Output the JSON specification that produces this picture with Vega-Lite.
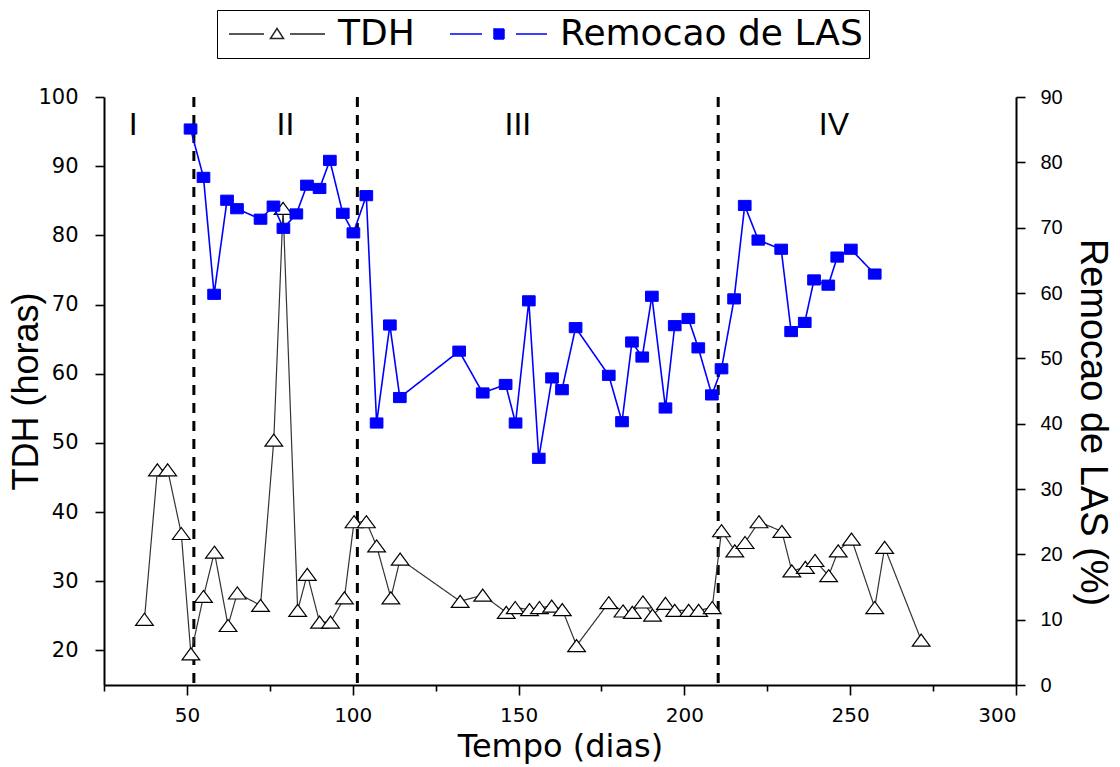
{
  "$schema": "https://vega.github.io/schema/vega-lite/v6.json",
  "width": 912,
  "height": 588,
  "autosize": {"type": "none"},
  "padding": {"left": 104, "top": 97, "right": 104, "bottom": 82},
  "background": "white",
  "config": {
    "view": {"stroke": null},
    "axis": {
      "domainColor": "black", "domainWidth": 2, "tickColor": "black", "tickWidth": 1.6,
      "labelColor": "black", "titleColor": "black", "titleFontWeight": "normal", "grid": false
    }
  },
  "datasets": {
    "tdh": [
      {"x": 37.2, "y": 24.5, "series": "TDH"}, {"x": 41.1, "y": 46.1, "series": "TDH"},
      {"x": 44.2, "y": 46.1, "series": "TDH"}, {"x": 48.3, "y": 36.9, "series": "TDH"},
      {"x": 51.2, "y": 19.5, "series": "TDH"}, {"x": 55.0, "y": 27.8, "series": "TDH"},
      {"x": 58.3, "y": 34.2, "series": "TDH"}, {"x": 62.4, "y": 23.6, "series": "TDH"},
      {"x": 65.2, "y": 28.3, "series": "TDH"}, {"x": 72.2, "y": 26.5, "series": "TDH"},
      {"x": 76.2, "y": 50.4, "series": "TDH"}, {"x": 79.0, "y": 83.9, "series": "TDH"},
      {"x": 83.4, "y": 25.8, "series": "TDH"}, {"x": 86.3, "y": 31.0, "series": "TDH"},
      {"x": 90.0, "y": 24.1, "series": "TDH"}, {"x": 93.3, "y": 24.1, "series": "TDH"},
      {"x": 97.5, "y": 27.6, "series": "TDH"}, {"x": 100.4, "y": 38.6, "series": "TDH"},
      {"x": 104.1, "y": 38.6, "series": "TDH"}, {"x": 107.2, "y": 35.1, "series": "TDH"},
      {"x": 111.5, "y": 27.6, "series": "TDH"}, {"x": 114.3, "y": 33.2, "series": "TDH"},
      {"x": 132.4, "y": 27.1, "series": "TDH"}, {"x": 139.2, "y": 28.0, "series": "TDH"},
      {"x": 146.3, "y": 25.5, "series": "TDH"}, {"x": 149.0, "y": 26.2, "series": "TDH"},
      {"x": 153.3, "y": 25.9, "series": "TDH"}, {"x": 156.3, "y": 26.2, "series": "TDH"},
      {"x": 160.0, "y": 26.4, "series": "TDH"}, {"x": 163.2, "y": 25.9, "series": "TDH"},
      {"x": 167.5, "y": 20.7, "series": "TDH"}, {"x": 177.2, "y": 26.9, "series": "TDH"},
      {"x": 181.5, "y": 25.7, "series": "TDH"}, {"x": 184.3, "y": 25.5, "series": "TDH"},
      {"x": 187.5, "y": 27.0, "series": "TDH"}, {"x": 190.4, "y": 25.1, "series": "TDH"},
      {"x": 194.3, "y": 26.8, "series": "TDH"}, {"x": 197.1, "y": 25.8, "series": "TDH"},
      {"x": 201.3, "y": 25.8, "series": "TDH"}, {"x": 204.3, "y": 25.8, "series": "TDH"},
      {"x": 208.4, "y": 26.2, "series": "TDH"}, {"x": 211.2, "y": 37.3, "series": "TDH"},
      {"x": 215.2, "y": 34.4, "series": "TDH"}, {"x": 218.3, "y": 35.6, "series": "TDH"},
      {"x": 222.5, "y": 38.6, "series": "TDH"}, {"x": 229.4, "y": 37.2, "series": "TDH"},
      {"x": 232.4, "y": 31.5, "series": "TDH"}, {"x": 236.5, "y": 32.0, "series": "TDH"},
      {"x": 239.4, "y": 33.0, "series": "TDH"}, {"x": 243.5, "y": 30.8, "series": "TDH"},
      {"x": 246.4, "y": 34.4, "series": "TDH"}, {"x": 250.4, "y": 36.1, "series": "TDH"},
      {"x": 257.4, "y": 26.2, "series": "TDH"}, {"x": 260.4, "y": 34.9, "series": "TDH"},
      {"x": 271.4, "y": 21.5, "series": "TDH"}
    ],
    "las": [
      {"x": 51.1, "y": 85.1, "series": "Remocao de LAS"}, {"x": 55.0, "y": 77.7, "series": "Remocao de LAS"},
      {"x": 58.2, "y": 59.8, "series": "Remocao de LAS"}, {"x": 62.1, "y": 74.2, "series": "Remocao de LAS"},
      {"x": 65.1, "y": 72.9, "series": "Remocao de LAS"}, {"x": 72.2, "y": 71.3, "series": "Remocao de LAS"},
      {"x": 76.1, "y": 73.3, "series": "Remocao de LAS"}, {"x": 79.1, "y": 69.9, "series": "Remocao de LAS"},
      {"x": 83.0, "y": 72.1, "series": "Remocao de LAS"}, {"x": 86.2, "y": 76.5, "series": "Remocao de LAS"},
      {"x": 90.0, "y": 76.0, "series": "Remocao de LAS"}, {"x": 93.1, "y": 80.3, "series": "Remocao de LAS"},
      {"x": 97.0, "y": 72.2, "series": "Remocao de LAS"}, {"x": 100.2, "y": 69.2, "series": "Remocao de LAS"},
      {"x": 104.1, "y": 74.9, "series": "Remocao de LAS"}, {"x": 107.2, "y": 40.1, "series": "Remocao de LAS"},
      {"x": 111.2, "y": 55.1, "series": "Remocao de LAS"}, {"x": 114.2, "y": 44.0, "series": "Remocao de LAS"},
      {"x": 132.1, "y": 51.1, "series": "Remocao de LAS"}, {"x": 139.2, "y": 44.7, "series": "Remocao de LAS"},
      {"x": 146.1, "y": 46.0, "series": "Remocao de LAS"}, {"x": 149.1, "y": 40.1, "series": "Remocao de LAS"},
      {"x": 153.1, "y": 58.8, "series": "Remocao de LAS"}, {"x": 156.1, "y": 34.7, "series": "Remocao de LAS"},
      {"x": 160.1, "y": 47.0, "series": "Remocao de LAS"}, {"x": 163.1, "y": 45.2, "series": "Remocao de LAS"},
      {"x": 167.2, "y": 54.7, "series": "Remocao de LAS"}, {"x": 177.2, "y": 47.4, "series": "Remocao de LAS"},
      {"x": 181.2, "y": 40.3, "series": "Remocao de LAS"}, {"x": 184.2, "y": 52.5, "series": "Remocao de LAS"},
      {"x": 187.3, "y": 50.2, "series": "Remocao de LAS"}, {"x": 190.2, "y": 59.5, "series": "Remocao de LAS"},
      {"x": 194.3, "y": 42.4, "series": "Remocao de LAS"}, {"x": 197.1, "y": 55.0, "series": "Remocao de LAS"},
      {"x": 201.2, "y": 56.1, "series": "Remocao de LAS"}, {"x": 204.2, "y": 51.6, "series": "Remocao de LAS"},
      {"x": 208.3, "y": 44.4, "series": "Remocao de LAS"}, {"x": 211.2, "y": 48.4, "series": "Remocao de LAS"},
      {"x": 215.0, "y": 59.1, "series": "Remocao de LAS"}, {"x": 218.2, "y": 73.4, "series": "Remocao de LAS"},
      {"x": 222.3, "y": 68.1, "series": "Remocao de LAS"}, {"x": 229.2, "y": 66.7, "series": "Remocao de LAS"},
      {"x": 232.2, "y": 54.1, "series": "Remocao de LAS"}, {"x": 236.3, "y": 55.5, "series": "Remocao de LAS"},
      {"x": 239.1, "y": 62.0, "series": "Remocao de LAS"}, {"x": 243.4, "y": 61.2, "series": "Remocao de LAS"},
      {"x": 246.1, "y": 65.5, "series": "Remocao de LAS"}, {"x": 250.2, "y": 66.7, "series": "Remocao de LAS"},
      {"x": 257.4, "y": 62.9, "series": "Remocao de LAS"}
    ],
    "phases": [
      {"label": "I", "x": 33.8, "y": 96.0},
      {"label": "II", "x": 79.7, "y": 96.0},
      {"label": "III", "x": 149.8, "y": 96.0},
      {"label": "IV", "x": 245.1, "y": 96.0}
    ],
    "dividers": [{"x": 52.1}, {"x": 101.4}, {"x": 210.2}]
  },
  "layer": [
    {
      "layer": [
        {
          "data": {"name": "dividers"},
          "mark": {"type": "rule", "color": "black", "strokeWidth": 3, "strokeDash": [10, 8]},
          "encoding": {
            "x": {"field": "x", "type": "quantitative", "scale": {"domain": [25, 300], "nice": false, "zero": false}}
          }
        },
        {
          "data": {"name": "phases"},
          "mark": {"type": "text", "font": "Liberation Sans", "fontSize": 32, "color": "black", "baseline": "middle", "align": "center"},
          "encoding": {
            "x": {"field": "x", "type": "quantitative"},
            "y": {"field": "y", "type": "quantitative"},
            "text": {"field": "label", "type": "nominal"}
          }
        },
        {
          "data": {"name": "tdh"},
          "mark": {"type": "line", "color": "#333333", "strokeWidth": 1.2},
          "encoding": {
            "x": {
              "field": "x", "type": "quantitative",
              "scale": {"domain": [25, 300], "nice": false, "zero": false},
              "axis": {
                "orient": "bottom", "title": "Tempo (dias)",
                "values": [25, 50, 75, 100, 125, 150, 175, 200, 225, 250, 275, 300],
                "labelExpr": "datum.value % 50 === 0 ? datum.label : ''",
                "tickSize": {"condition": {"test": "datum.value % 50 === 0", "value": 10}, "value": 6},
                "labelFont": "DejaVu Sans", "labelFontSize": 20, "labelPadding": 10,
                "titleFont": "DejaVu Sans", "titleFontSize": 32, "titlePadding": 6
              }
            },
            "y": {
              "field": "y", "type": "quantitative",
              "scale": {"domain": [15, 100], "nice": false, "zero": false},
              "axis": {
                "orient": "left", "title": "TDH (horas)",
                "values": [20, 25, 30, 35, 40, 45, 50, 55, 60, 65, 70, 75, 80, 85, 90, 95, 100],
                "labelExpr": "datum.value % 10 === 0 ? datum.label : ''",
                "tickSize": {"condition": {"test": "datum.value % 10 === 0", "value": 9}, "value": 6},
                "labelFont": "DejaVu Sans", "labelFontSize": 21, "labelPadding": 17,
                "titleFont": "Liberation Sans", "titleFontSize": 36, "titlePadding": -8
              }
            },
            "strokeDash": {
              "field": "series", "type": "nominal",
              "scale": {"domain": ["TDH", "Remocao de LAS"], "range": [[1, 0], [1, 0]]},
              "legend": {
                "orient": "none", "legendX": 113, "legendY": -87, "direction": "horizontal", "title": null,
                "strokeColor": "black", "fillColor": "white", "padding": 6,
                "labelFont": "DejaVu Sans", "labelFontSize": 36, "labelLimit": 600, "labelColor": "black",
                "symbolSize": 100, "symbolOffset": 36, "labelOffset": 43, "columnPadding": 30,
                "encoding": {
                  "symbols": {
                    "shape": {"value": {"expr": "datum.value === 'TDH' ? 'M-9.6,0H-2.6M2.6,0H9.6M0,-1.1L1.3,0.9L-1.3,0.9Z' : 'M-9.8,0H-3.4M3.4,0H9.6M-1,-1H1V1H-1Z'"}},
                    "fill": {"value": {"expr": "datum.value === 'TDH' ? 'white' : '#0000ff'"}},
                    "stroke": {"value": {"expr": "datum.value === 'TDH' ? '#222222' : '#0000ff'"}},
                    "strokeWidth": {"value": 1.5},
                    "size": {"value": 100},
                    "opacity": {"value": 1}
                  }
                }
              }
            }
          }
        },
        {
          "data": {"name": "tdh"},
          "mark": {"type": "point", "shape": "M0,-0.68L1,0.68L-1,0.68Z", "filled": true, "fill": "white", "stroke": "black", "size": 313, "strokeWidth": 1.2, "opacity": 1},
          "encoding": {
            "x": {"field": "x", "type": "quantitative"},
            "y": {"field": "y", "type": "quantitative"}
          }
        }
      ]
    },
    {
      "layer": [
        {
          "data": {"name": "las"},
          "mark": {"type": "line", "color": "#0000ff", "strokeWidth": 1.6},
          "encoding": {
            "x": {"field": "x", "type": "quantitative"},
            "y": {
              "field": "y", "type": "quantitative",
              "scale": {"domain": [0, 90], "nice": false, "zero": false},
              "axis": {
                "orient": "right", "title": "Remocao de LAS (%)",
                "values": [0, 5, 10, 15, 20, 25, 30, 35, 40, 45, 50, 55, 60, 65, 70, 75, 80, 85, 90],
                "labelExpr": "datum.value % 10 === 0 ? datum.label : ''",
                "tickSize": {"condition": {"test": "datum.value % 10 === 0", "value": 9}, "value": 6},
                "labelFont": "Liberation Sans", "labelFontSize": 20, "labelPadding": 15,
                "titleFont": "Liberation Sans", "titleFontSize": 38, "titlePadding": 10, "titleY": 325
              }
            },
            "strokeDash": {"field": "series", "type": "nominal"}
          }
        },
        {
          "data": {"name": "las"},
          "mark": {"type": "point", "shape": "M-1,-0.8H1V0.8H-1Z", "filled": true, "fill": "#0000ff", "stroke": "#0000ff", "size": 161, "strokeWidth": 1, "opacity": 1},
          "encoding": {
            "x": {"field": "x", "type": "quantitative"},
            "y": {"field": "y", "type": "quantitative"}
          }
        }
      ]
    }
  ],
  "resolve": {"scale": {"y": "independent"}, "axis": {"y": "independent"}}
}
